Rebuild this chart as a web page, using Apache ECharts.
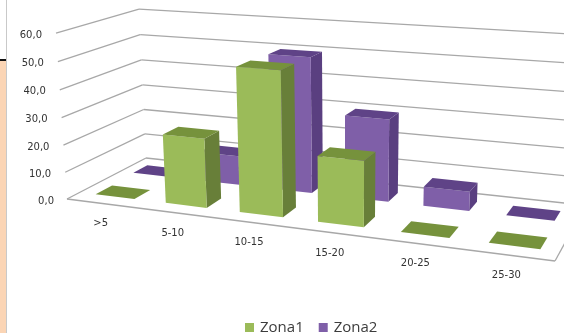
<!DOCTYPE html>
<html>
<head>
<meta charset="utf-8">
<style>html,body{margin:0;padding:0;background:#fff}#chart{width:564px;height:333px}</style>
<script src="https://cdn.jsdelivr.net/npm/echarts@6/dist/echarts.min.js"></script>
</head>
<body>
<div id="chart"></div>
<script>
const categories = ['>5', '5-10', '10-15', '15-20', '20-25', '25-30'];
const zona1 = [0, 25, 51, 23, 0, 0];
const zona2 = [0, 11, 50, 30, 7, 0];
const valueTicks = [0, 10, 20, 30, 40, 50, 60];

const GRID = { left: 67, top: 33, width: 488, height: 166 };
const ROWS = { zona1: [0.15, 0.35], zona2: [0.65, 0.84] };
const BAR_HALF = 0.28;
const ROW_SHIFT = { zona1: 0.01, zona2: -0.02 };

// Perspective box: grid pixels plus a depth in [0,1] go to screen pixels.
function project(gx, gy, d) {
  const t = (gx - GRID.left) / GRID.width;
  const z = (GRID.top + GRID.height - gy) / GRID.height;
  const w = 1 - 0.16 * t + 0.121 * d - 0.0377 * z;
  return [
    (399.2 * t + 96.67 * d + 67 - 13.1 * z) / w,
    (20.24 * t - 21.9 * d + 199 - 167.2 * z + 2.5 * z * t) / w
  ];
}

function barRender(row, shift, front, side, top) {
  return function (params, api) {
    const u = api.value(0) + shift, val = api.value(1);
    const p0 = api.coord([u - BAR_HALF, 0]), p1 = api.coord([u + BAR_HALF, 0]);
    const y0 = p0[1], y1 = api.coord([u, val])[1];
    const [d0, d1] = row;
    const P = (x, y, d) => project(x, y, d);
    const poly = (pts, fill) => ({ type: 'polygon', shape: { points: pts }, style: { fill } });
    const topFace = poly([P(p0[0], y1, d0), P(p1[0], y1, d0), P(p1[0], y1, d1), P(p0[0], y1, d1)], top);
    if (val === 0) return topFace;
    return {
      type: 'group',
      children: [
        poly([P(p1[0], y0, d0), P(p1[0], y0, d1), P(p1[0], y1, d1), P(p1[0], y1, d0)], side),
        poly([P(p0[0], y0, d0), P(p1[0], y0, d0), P(p1[0], y1, d0), P(p0[0], y1, d0)], front),
        topFace
      ]
    };
  };
}

const chart = echarts.init(document.getElementById('chart'), null, { renderer: 'canvas' });

function lineEl(a, b) {
  return { type: 'line', shape: { x1: a[0], y1: a[1], x2: b[0], y2: b[1] },
           style: { stroke: '#a8a8a8', lineWidth: 1.3 } };
}

chart.setOption({
  animation: false,
  backgroundColor: '#fff',
  textStyle: { fontFamily: 'DejaVu Sans' },
  grid: Object.assign({ containLabel: false }, GRID),
  xAxis: { type: 'value', min: 0, max: 6, show: false },
  yAxis: { type: 'value', min: 0, max: 60, interval: 10, show: false },
  legend: {
    left: 240, top: 315, itemWidth: 9, itemHeight: 9, itemGap: 15, icon: 'rect',
    data: ['Zona1', 'Zona2'],
    textStyle: { fontFamily: 'Open Sans', fontSize: 15, color: '#3c3c3c', padding: [0, 0, 0, 1] }
  },
  graphic: [
    { type: 'rect', shape: { x: 0, y: 60, width: 6, height: 273 }, style: { fill: '#fbd5b5' }, silent: true },
    { type: 'rect', shape: { x: 0, y: 59, width: 6, height: 2 }, style: { fill: '#111' }, silent: true },
    { type: 'rect', shape: { x: 6, y: 0, width: 1, height: 333 }, style: { fill: '#c9c9c9' }, silent: true }
  ],
  series: [
    {
      // Walls, floor outline and the labels that sit along them
      type: 'custom', coordinateSystem: 'cartesian2d', silent: true, z: 1,
      data: valueTicks.map(v => [v]),
      encode: { x: -1, y: 0 },
      renderItem(params, api) {
        const v = api.value(0);
        const l = api.coord([0, v]), r = api.coord([6, v]);
        const kids = [
          lineEl(project(l[0], l[1], 0), project(l[0], l[1], 1)),
          lineEl(project(l[0], l[1], 1), project(r[0], r[1], 1))
        ];
        if (v === 0) {
          kids.push(lineEl(project(l[0], l[1], 0), project(r[0], r[1], 0)));
          kids.push(lineEl(project(r[0], r[1], 0), project(r[0], r[1], 1)));
        }
        const p = project(l[0], l[1], 0);
        kids.push({ type: 'text', style: {
          text: v.toFixed(1).replace('.', ','),
          x: p[0] - 13 - (v === 0 ? 0 : 1), y: p[1] + 2, align: 'right', verticalAlign: 'middle',
          font: '10px "DejaVu Sans"', fill: '#333333' } });
        return { type: 'group', children: kids };
      }
    },
    {
      // Category labels under the front edge of the floor
      type: 'custom', coordinateSystem: 'cartesian2d', silent: true, z: 1,
      data: categories.map((c, i) => [i + 0.5, 0, c]),
      encode: { x: 0, y: 1 },
      renderItem(params, api) {
        const c = api.coord([api.value(0), 0]);
        const p = project(c[0], c[1], 0);
        return { type: 'text', style: {
          text: categories[params.dataIndex], x: p[0] - 1, y: p[1] + 20.5,
          align: 'center', verticalAlign: 'middle',
          font: '10px "DejaVu Sans"', fill: '#333333' } };
      }
    },
    {
      name: 'Zona2', type: 'custom', coordinateSystem: 'cartesian2d', z: 2,
      itemStyle: { color: '#7f5fa8' },
      data: zona2.map((v, i) => [i + 0.5, v]),
      encode: { x: 0, y: 1 },
      renderItem: barRender(ROWS.zona2, ROW_SHIFT.zona2, '#7f5fa8', '#5a3f80', '#5f4387')
    },
    {
      name: 'Zona1', type: 'custom', coordinateSystem: 'cartesian2d', z: 3,
      itemStyle: { color: '#9bbb59' },
      data: zona1.map((v, i) => [i + 0.5, v]),
      encode: { x: 0, y: 1 },
      renderItem: barRender(ROWS.zona1, ROW_SHIFT.zona1, '#9bbb59', '#687f39', '#76923c')
    }
  ]
});
</script>
</body>
</html>
